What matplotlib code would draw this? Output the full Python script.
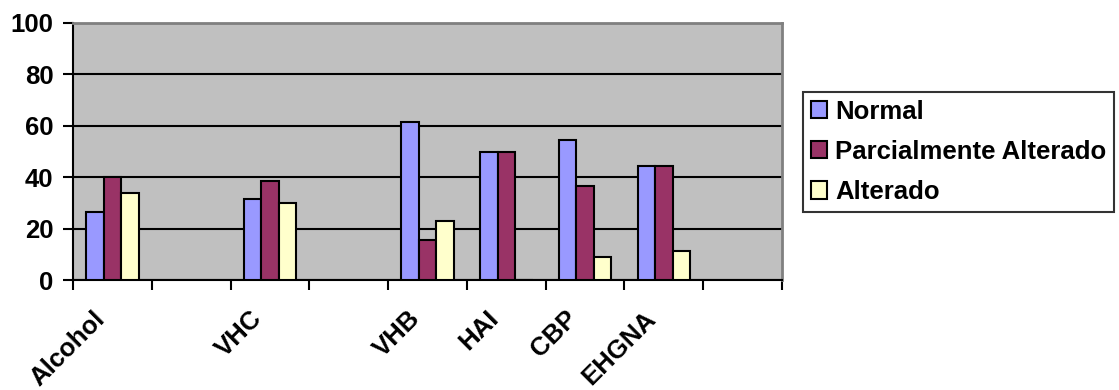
import numpy as np
import matplotlib
matplotlib.use('Agg')
import matplotlib.pyplot as plt
import matplotlib.transforms as mtransforms
from matplotlib.patches import Patch

plt.rcParams['font.family'] = ['Liberation Sans', 'DejaVu Sans']
plt.rcParams['font.weight'] = 'bold'

# categories (blank slots are empty columns on the axis)
categories = ['Alcohol', '', 'VHC', '', 'VHB', 'HAI', 'CBP', 'EHGNA', '']
normal = [26.3, np.nan, 31.5, np.nan, 61.5, 50.0, 54.5, 44.4, np.nan]
parcial = [40.0, np.nan, 38.5, np.nan, 15.4, 50.0, 36.4, 44.4, np.nan]
alterado = [33.7, np.nan, 30.0, np.nan, 23.1, 0.0, 9.1, 11.1, np.nan]
series_names = ['Normal', 'Parcialmente Alterado', 'Alterado']
colors = ['#9999FF', '#993366', '#FFFFCC']
yticks = [0, 20, 40, 60, 80, 100]

fs = 18.5

fig = plt.figure(figsize=(11.19, 3.9), dpi=100)
ax = fig.add_axes([73/1119, 1 - 280/390, (782 - 73)/1119, (280 - 23)/390])
ax.set_facecolor('#C0C0C0')

x = np.arange(len(categories))
w = 1 / 4.5
for i, vals in enumerate([normal, parcial, alterado]):
    ax.bar(x + (i - 1) * w, vals, w, color=colors[i], edgecolor='black',
           linewidth=1.5, zorder=3)

ax.set_xlim(-0.5, len(categories) - 0.5)
ax.set_ylim(0, 100)
ax.set_yticks(yticks)
ax.set_yticklabels([str(v) for v in yticks], fontsize=fs, fontweight='bold')
ax.yaxis.grid(True, color='black', linewidth=1.5, zorder=1)
ax.set_axisbelow(True)

# labels at category centers, tick marks at category boundaries
ax.set_xticks(x)
ax.set_xticklabels(categories, rotation=45, ha='right', va='top',
                   rotation_mode='anchor', fontsize=fs, fontweight='bold')
ax.set_xticks(np.arange(-0.5, len(categories)), minor=True)
ax.tick_params(axis='x', which='major', length=0, pad=19)
ax.tick_params(axis='x', which='minor', length=7, width=1.5, color='black')
ax.tick_params(axis='y', length=7, width=1.5, color='black', pad=7)

# nudge rotated labels a bit to the left
shift = mtransforms.ScaledTranslation(-20/100, 0, fig.dpi_scale_trans)
for lab in ax.get_xticklabels():
    lab.set_transform(lab.get_transform() + shift)

for s in ['top', 'right']:
    ax.spines[s].set_color('#808080')
    ax.spines[s].set_linewidth(2)
for s in ['left', 'bottom']:
    ax.spines[s].set_color('black')
    ax.spines[s].set_linewidth(1.5)

handles = [Patch(facecolor=c, edgecolor='black', linewidth=1.5) for c in colors]
leg = fig.legend(handles, series_names, loc='upper left',
                 bbox_to_anchor=(803/1119, 1 - 92/390), frameon=True,
                 fancybox=False, edgecolor='black',
                 prop={'weight': 'bold', 'size': fs},
                 handlelength=0.65, handleheight=0.65, handletextpad=0.3,
                 labelspacing=0.63, borderpad=0.3, borderaxespad=0)
leg.get_frame().set_linewidth(1.5)

fig.savefig('out.png', dpi=100)
